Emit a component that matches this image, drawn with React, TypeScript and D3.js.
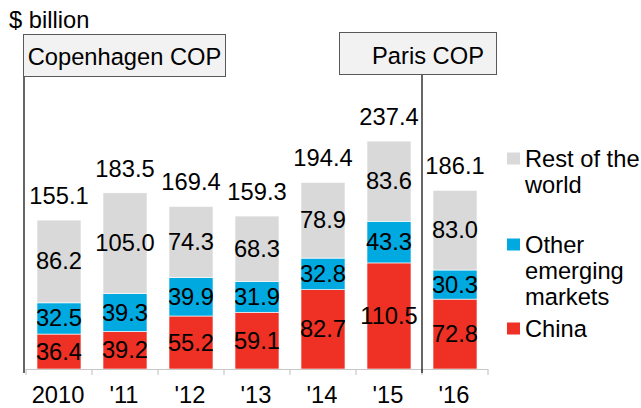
import React from "react";
import * as d3 from "d3";

const categories = ["2010", "'11", "'12", "'13", "'14", "'15", "'16"];
const china = [36.4, 39.2, 55.2, 59.1, 82.7, 110.5, 72.8];
const otherEM = [32.5, 39.3, 39.9, 31.9, 32.8, 43.3, 30.3];
const rest = [86.2, 105.0, 74.3, 68.3, 78.9, 83.6, 83.0];
const totals = [155.1, 183.5, 169.4, 159.3, 194.4, 237.4, 186.1];

const seriesNames = ["China", "Other emerging markets", "Rest of the world"];
const seriesColors = ["#ee3124", "#00a9e0", "#d9d9d9"];

const FONT = "'Liberation Sans', Arial, sans-serif";
const FS = 23.7;

export default function App() {
  const W = 641, H = 408;
  const x = d3.scaleBand<string>().domain(categories).range([26, 488]).paddingInner(1 / 3).paddingOuter(1 / 6);
  const y = d3.scaleLinear().domain([0, 250]).range([369, 129]);
  const step = x.step();
  const halfGap = (step * x.paddingInner()) / 2;

  const table = categories.map((c, i) => ({ cat: c, China: china[i], "Other emerging markets": otherEM[i], "Rest of the world": rest[i] }));
  const stack = d3.stack<any>().keys(seriesNames)(table);

  const tickXs = categories.map((c) => (x(c) as number) - halfGap).concat([(x(categories[categories.length - 1]) as number) + x.bandwidth() + halfGap]);
  const parisX = (x("'16") as number) - halfGap;
  const copX = x.range()[0] - 2;

  const legend = [
    { color: seriesColors[2], lines: ["Rest of the", "world"], base: 166.5 },
    { color: seriesColors[1], lines: ["Other", "emerging", "markets"], base: 252.5 },
    { color: seriesColors[0], lines: ["China"], base: 336.5 },
  ];

  return (
    <svg width={W} height={H} style={{ position: "absolute", left: 0, top: 0 }} fontFamily={FONT}>
      <rect width={W} height={H} fill="#fff" />
      <text x={9} y={28} fontSize={FS} fill="#000">$ billion</text>

      {/* stacked bars */}
      {stack.map((s, si) => (
        <g key={si}>
          {s.map((d, i) => {
            const x0 = x(categories[i]) as number;
            const yTop = y(d[1]);
            const yBot = y(d[0]);
            return (
              <g key={i}>
                <rect x={x0} y={yTop} width={x.bandwidth()} height={yBot - yTop} fill={seriesColors[si]} stroke="#ffffff" strokeWidth={0.6} />
                <text x={x0 + x.bandwidth() / 2} y={(yTop + yBot) / 2 + 8} textAnchor="middle" fontSize={FS} fill="#000">
                  {(d[1] - d[0]).toFixed(1)}
                </text>
              </g>
            );
          })}
        </g>
      ))}

      {/* totals */}
      {categories.map((c, i) => (
        <text key={c} x={(x(c) as number) + x.bandwidth() / 2} y={y(totals[i]) - 16} textAnchor="middle" fontSize={FS} fill="#000">
          {totals[i].toFixed(1)}
        </text>
      ))}

      {/* axis */}
      <line x1={tickXs[0]} x2={tickXs[tickXs.length - 1]} y1={y(0) + 0.5} y2={y(0) + 0.5} stroke="#c8c8c8" strokeWidth={1.2} />
      {tickXs.map((tx, i) => (
        <line key={i} x1={tx} x2={tx} y1={y(0)} y2={y(0) + 6} stroke="#c8c8c8" strokeWidth={1.2} />
      ))}
      {categories.map((c) => (
        <text key={c} x={(x(c) as number) + x.bandwidth() / 2 - 1} y={403} textAnchor="middle" fontSize={FS} fill="#000">
          {c}
        </text>
      ))}

      {/* annotations */}
      <line x1={copX} x2={copX} y1={77} y2={373} stroke="#000" strokeWidth={1.2} />
      <rect x={23.5} y={34.5} width={202} height={42} fill="#f2f2f2" stroke="#595959" strokeWidth={1} />
      <text x={124.5} y={65} textAnchor="middle" fontSize={FS} fill="#000">Copenhagen COP</text>

      <line x1={parisX} x2={parisX} y1={75} y2={373} stroke="#000" strokeWidth={1.2} />
      <rect x={339.5} y={32.5} width={157} height={42} fill="#f2f2f2" stroke="#595959" strokeWidth={1} />
      <text x={428} y={63.5} textAnchor="middle" fontSize={FS} fill="#000">Paris COP</text>

      {/* legend */}
      {legend.map((l, i) => (
        <g key={i}>
          <rect x={507} y={l.base - 14} width={13} height={12} fill={l.color} />
          {l.lines.map((t, j) => (
            <text key={j} x={525} y={l.base + j * 26.3} fontSize={FS} fill="#000">{t}</text>
          ))}
        </g>
      ))}
    </svg>
  );
}
